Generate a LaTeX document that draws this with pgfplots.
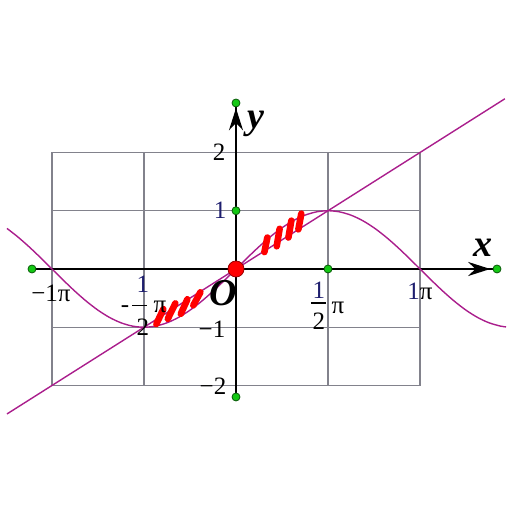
\documentclass[border=0pt]{standalone}
\usepackage{pgfplots}
\pgfplotsset{compat=1.18}
\usepackage{fontspec}
\setmainfont{Liberation Serif}
\usetikzlibrary{arrows.meta}
\definecolor{curve}{RGB}{170,30,140}
\definecolor{gridc}{RGB}{130,130,140}
\definecolor{gdot}{RGB}{20,200,20}
\definecolor{gdotd}{RGB}{10,90,10}
\definecolor{navy}{RGB}{30,30,110}
\begin{document}
\begin{tikzpicture}
\begin{axis}[width=256pt,height=256pt,scale only axis,
  xmin=-4.029,xmax=4.712,ymin=-4.172,ymax=4.618,
  axis lines=none,clip=false]
\path (rel axis cs:0,0) rectangle (rel axis cs:1,1);
% grid
\draw[gridc,line width=0.55pt] (axis cs:-3.1416,-2) rectangle (axis cs:3.1416,2);
\draw[gridc,line width=0.55pt] (axis cs:-1.5708,-2) -- (axis cs:-1.5708,2);
\draw[gridc,line width=0.55pt] (axis cs:1.5708,-2) -- (axis cs:1.5708,2);
\draw[gridc,line width=0.55pt] (axis cs:-3.1416,1) -- (axis cs:3.1416,1);
\draw[gridc,line width=0.55pt] (axis cs:-3.1416,-1) -- (axis cs:3.1416,-1);
% axes
\draw[black,line width=1pt,-{Stealth[length=11pt,width=7pt]}] (axis cs:-3.483,0) -- (axis cs:4.34,0);
\draw[black,line width=1pt] (axis cs:4.3,0) -- (axis cs:4.456,0);
\draw[black,line width=1pt,-{Stealth[length=11pt,width=7pt]}] (axis cs:0,-2.197) -- (axis cs:0,2.76);
\draw[black,line width=1pt] (axis cs:0,2.7) -- (axis cs:0,2.85);
% sine curve
\addplot[curve,line width=0.7pt,smooth] coordinates {
(-3.9100,0.69671) (-3.7306,0.55557) (-3.5343,0.38268) (-3.3379,0.19509) (-3.1416,0)
(-2.9452,-0.19509) (-2.7489,-0.38268) (-2.5525,-0.55557) (-2.3562,-0.70711) (-2.1598,-0.83147)
(-1.9635,-0.92388) (-1.7671,-0.98079) (-1.5708,-1) (-1.3744,-0.98079) (-1.1781,-0.92388)
(-0.9817,-0.83147) (-0.7854,-0.70711) (-0.5890,-0.55557) (-0.3927,-0.38268) (-0.1963,-0.19509)
(0,0) (0.1963,0.19509) (0.3927,0.38268) (0.5890,0.55557) (0.7854,0.70711)
(0.9817,0.83147) (1.1781,0.92388) (1.3744,0.98079) (1.5708,1) (1.7671,0.98079)
(1.9635,0.92388) (2.1598,0.83147) (2.3562,0.70711) (2.5525,0.55557) (2.7489,0.38268)
(2.9452,0.19509) (3.1416,0) (3.3379,-0.19509) (3.5343,-0.38268) (3.7306,-0.55557)
(3.9270,-0.70711) (4.1233,-0.83147) (4.3197,-0.92388) (4.5160,-0.98079) (4.6100,-0.99453)
};
% line
\addplot[curve,line width=0.7pt] coordinates {(-3.91,-2.489) (4.59,2.922)};
% red hatch strokes
\addplot[red,line width=3.3pt,line cap=round] coordinates {(0.485,0.29) (0.535,0.54)};
\addplot[red,line width=3.3pt,line cap=round] coordinates {(0.695,0.39) (0.745,0.69)};
\addplot[red,line width=3.3pt,line cap=round] coordinates {(0.895,0.54) (0.945,0.83)};
\addplot[red,line width=3.3pt,line cap=round] coordinates {(1.065,0.68) (1.115,0.95)};
\addplot[red,line width=3.3pt,line cap=round] coordinates {(-1.360,-0.945) (-1.240,-0.690)};
\addplot[red,line width=3.3pt,line cap=round] coordinates {(-1.164,-0.855) (-1.035,-0.590)};
\addplot[red,line width=3.3pt,line cap=round] coordinates {(-0.942,-0.770) (-0.830,-0.520)};
\addplot[red,line width=3.3pt,line cap=round] coordinates {(-0.729,-0.624) (-0.608,-0.400)};
% green dots
\addplot[only marks,mark=*,mark size=2pt,mark options={fill=gdot,draw=gdotd,line width=0.4pt}] coordinates {
(-3.483,0) (4.456,0) (0,2.850) (0,-2.197) (1.5708,0) (0,1)};
% origin dot
\addplot[only marks,mark=*,mark size=4pt,mark options={fill=red,draw=red!60!black,line width=0.4pt}] coordinates {(0,0)};
% labels
\begin{scope}[every node/.style={inner sep=0pt,font=\fontsize{12.5}{13}\selectfont}]
\node at (axis cs:-0.290,2.009) {2};
\node[text=navy] at (axis cs:-0.273,1.013) {1};
\node at (axis cs:-0.410,-1.030) {−1};
\node at (axis cs:-0.393,-2.009) {−2};
\node at (axis cs:-3.159,-0.412) {−1π};
\node at (axis cs:3.142,-0.378) {\textcolor{navy}{1}π};
\node[text=navy] at (axis cs:1.417,-0.360) {1};
\node at (axis cs:1.417,-0.900) {2};
\node at (axis cs:1.742,-0.670) {π};
\node at (axis cs:-1.895,-0.690) {-};
\node[text=navy] at (axis cs:-1.588,-0.270) {1};
\node at (axis cs:-1.588,-1.000) {2};
\node at (axis cs:-1.298,-0.650) {π};
\end{scope}
\draw[black,line width=0.6pt] (axis cs:1.280,-0.584) -- (axis cs:1.537,-0.584);
\draw[black,line width=0.6pt] (axis cs:-1.775,-0.620) -- (axis cs:-1.520,-0.620);
\node[inner sep=0pt,font=\fontsize{19}{20}\selectfont\bfseries\itshape] at (axis cs:4.217,0.361) {x};
\node[inner sep=0pt,font=\fontsize{19}{20}\selectfont\bfseries\itshape] at (axis cs:0.341,2.489) {y};
\node[inner sep=0pt,font=\fontsize{19}{20}\selectfont\bfseries\itshape] at (axis cs:-0.222,-0.412) {O};
\end{axis}
\end{tikzpicture}
\end{document}
